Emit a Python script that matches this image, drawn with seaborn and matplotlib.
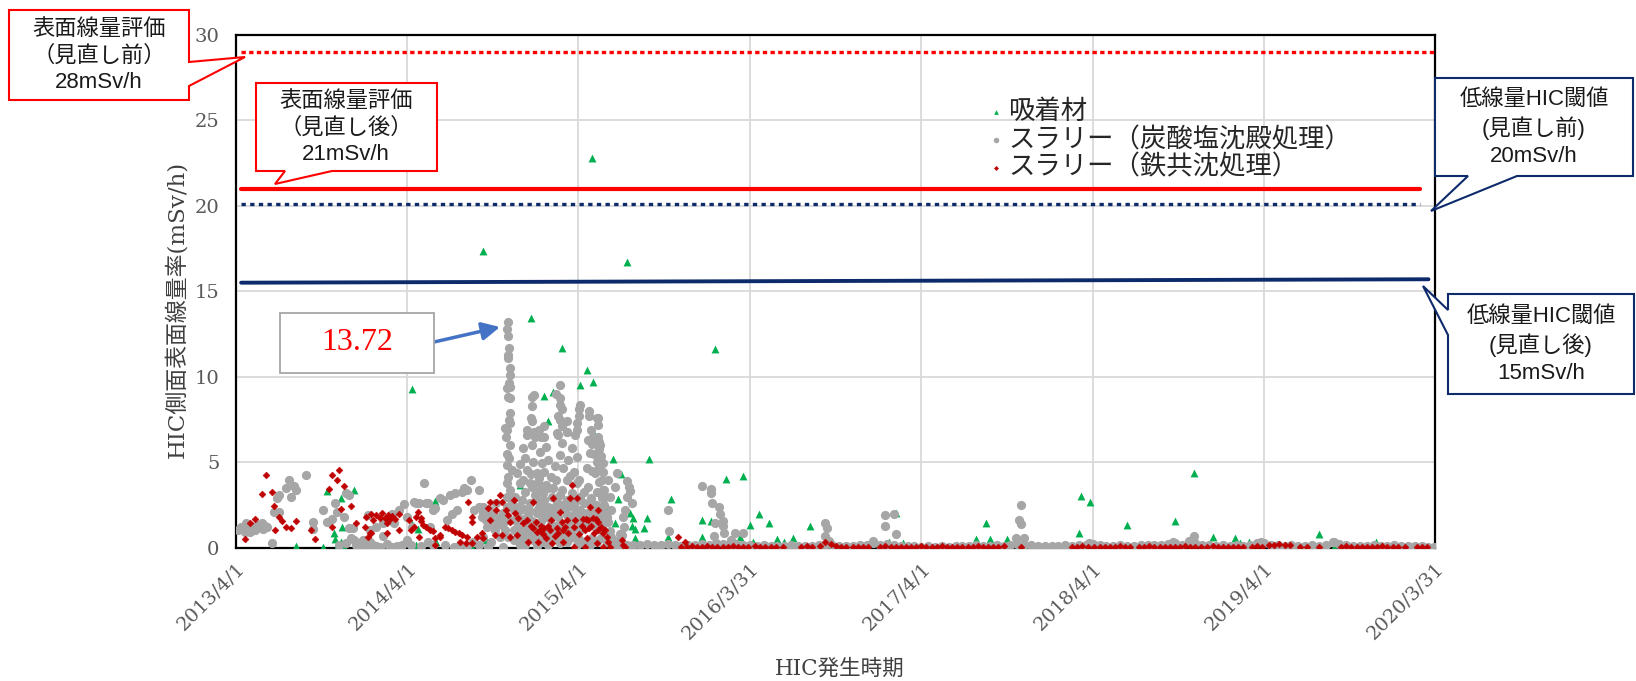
import numpy as np
import pandas as pd
import matplotlib
matplotlib.use("Agg")
import matplotlib.pyplot as plt
from matplotlib.patches import Polygon
import seaborn as sns

# ---- data: x = years elapsed since 2013/4/1, y = HIC side surface dose rate (mSv/h) ----
START = pd.Timestamp("2013-04-01")

# 吸着材 (green triangles)
ads_pts = [(0.35, 0.14), (0.51, 0.04), (0.53, 3.34), (0.57, 0.86), (0.58, 0.50), (0.59, 0.03),
           (0.61, 2.95), (0.61, 0.37), (0.62, 1.25), (0.63, 0.06), (0.69, 3.40), (1.03, 9.30),
           (1.03, 1.40), (1.05, 0.17), (1.06, 1.10), (1.16, 2.76), (1.17, 0.37), (1.29, 0.08),
           (1.37, 0.18), (1.44, 17.34), (1.46, 0.47), (1.63, 2.51), (1.66, 3.68), (1.71, 1.05),
           (1.72, 13.43), (1.80, 8.90), (1.82, 7.40), (1.85, 9.10), (1.90, 1.25), (1.905, 11.68),
           (1.95, 2.51), (2.00, 1.35), (2.01, 9.50), (2.05, 10.40), (2.076, 22.77), (2.086, 9.70),
           (2.086, 6.80), (2.17, 2.32), (2.20, 5.19), (2.21, 1.44), (2.23, 2.86), (2.245, 4.35),
           (2.28, 16.70), (2.30, 2.03), (2.31, 1.30), (2.32, 1.75), (2.33, 1.10), (2.33, 0.60),
           (2.38, 1.15), (2.40, 1.73), (2.41, 5.19), (2.52, 0.64), (2.54, 2.87), (2.72, 1.64),
           (2.72, 0.62), (2.77, 1.57), (2.795, 11.60), (2.86, 4.03), (2.94, 0.62), (2.96, 4.19),
           (3.00, 1.34), (3.02, 0.36), (3.05, 1.98), (3.11, 1.48), (3.16, 0.50), (3.20, 0.37),
           (3.25, 0.56), (3.35, 1.30), (3.81, 0.37), (3.85, 2.06), (3.895, 0.31), (4.32, 0.50),
           (4.375, 1.48), (4.40, 0.52), (4.50, 0.50), (4.92, 0.90), (4.93, 3.04), (4.985, 2.71),
           (5.20, 1.33), (5.48, 1.58), (5.59, 4.37), (5.70, 0.65), (5.83, 0.60), (5.86, 0.31),
           (5.91, 0.33), (6.32, 0.80), (6.655, 0.37)]
ads_low = [(2.45, 0.05), (2.62, 0.03), (2.90, 0.05), (3.30, 0.04), (3.90, 0.05), (4.50, 0.04),
           (5.20, 0.04), (5.90, 0.05), (6.41, 0.05), (6.60, 0.04)]

# スラリー（炭酸塩沈殿処理） (grey circles)
carb_early = [(0.01, 1.06), (0.03, 1.20), (0.04, 1.25), (0.05, 0.95), (0.06, 1.45), (0.07, 1.10),
              (0.08, 0.96), (0.09, 1.30), (0.10, 1.25), (0.11, 1.05), (0.12, 1.15), (0.13, 1.35),
              (0.15, 1.45), (0.16, 1.10), (0.17, 1.30), (0.18, 1.25), (0.21, 0.27), (0.22, 2.12),
              (0.24, 2.90), (0.25, 3.10), (0.25, 2.10), (0.29, 3.49), (0.31, 3.95), (0.32, 3.00),
              (0.34, 3.63), (0.35, 3.36), (0.41, 4.27), (0.45, 1.54), (0.45, 1.09), (0.51, 2.20),
              (0.53, 1.54), (0.56, 1.68), (0.58, 2.60), (0.59, 2.12), (0.63, 1.83), (0.64, 3.20),
              (0.66, 3.10), (0.66, 1.15), (0.67, 0.56), (0.68, 1.15), (0.70, 0.17), (0.72, 0.30),
              (0.74, 0.47), (0.76, 0.10), (0.77, 1.93), (0.78, 1.05), (0.80, 0.20), (0.82, 1.25),
              (0.84, 0.08), (0.86, 1.44), (0.86, 0.70), (0.89, 1.64), (0.91, 2.00), (0.91, 0.08),
              (0.92, 1.45), (0.95, 2.20), (0.97, 0.17), (0.98, 2.55), (1.00, 0.47), (1.00, 1.80),
              (1.03, 1.25), (1.04, 2.70), (1.05, 2.60), (1.07, 2.60), (1.10, 3.82), (1.11, 2.65),
              (1.12, 2.60), (1.12, 0.37), (1.13, 1.25), (1.15, 2.20), (1.16, 2.32), (1.19, 2.90),
              (1.21, 2.80), (1.22, 0.18), (1.23, 1.64), (1.25, 3.10), (1.26, 2.00), (1.27, 0.08),
              (1.28, 3.20), (1.29, 2.20), (1.32, 3.30), (1.33, 3.50), (1.35, 3.40), (1.37, 4.00),
              (1.385, 0.37), (1.39, 2.20), (1.42, 3.40), (1.42, 2.40), (1.44, 2.04), (1.46, 1.65),
              (1.50, 1.25), (0.60, 0.15), (0.64, 0.30), (0.69, 0.45), (0.73, 0.15), (0.78, 0.35),
              (0.82, 0.10), (0.88, 0.25), (0.94, 0.10), (1.02, 0.20), (1.08, 0.10), (1.15, 0.15),
              (1.30, 0.10), (1.35, 0.12), (1.42, 0.15)]
carb_peak = [(1.44, 2.42), (1.48, 2.22), (1.52, 2.61), (1.434, 1.83), (1.49, 1.64), (1.54, 1.83),
             (1.463, 1.25), (1.51, 1.05), (1.55, 1.35), (1.444, 0.66), (1.49, 0.37), (1.54, 0.66),
             (1.62, 0.47), (1.47, 0.08), (1.56, 0.08), (1.658, 0.18),
             (1.584, 6.90), (1.576, 6.50), (1.60, 6.00), (1.584, 5.50), (1.595, 5.24), (1.58, 4.85),
             (1.61, 4.56), (1.59, 4.17), (1.58, 3.78), (1.60, 3.40), (1.58, 3.00), (1.61, 2.70),
             (1.584, 2.42), (1.56, 2.03), (1.60, 1.64), (1.57, 1.05), (1.59, 0.66),
             (1.586, 13.23), (1.58, 12.79), (1.586, 12.36), (1.596, 11.68), (1.59, 11.30),
             (1.59, 11.10), (1.60, 10.50), (1.60, 10.10), (1.596, 9.63), (1.58, 9.34), (1.60, 9.40),
             (1.59, 8.85), (1.60, 8.75), (1.60, 7.87), (1.596, 7.48), (1.60, 7.30), (1.57, 7.00),
             (1.70, 6.60), (1.745, 6.50), (1.80, 6.50), (1.677, 5.83), (1.726, 6.00), (1.774, 5.63),
             (1.81, 5.90), (1.687, 5.24), (1.735, 5.05), (1.784, 4.95), (1.823, 5.15), (1.70, 4.56),
             (1.755, 4.37), (1.80, 4.46), (1.84, 4.17), (1.677, 3.98), (1.716, 3.78), (1.765, 3.88),
             (1.81, 3.68), (1.852, 3.49), (1.687, 3.30), (1.745, 3.10), (1.794, 3.20), (1.842, 3.00),
             (1.667, 2.81), (1.716, 2.61), (1.774, 2.51), (1.823, 2.42), (1.872, 2.71), (1.658, 2.22),
             (1.706, 1.93), (1.755, 2.03), (1.80, 1.83), (1.862, 1.93), (1.638, 1.54), (1.697, 1.35),
             (1.745, 1.25), (1.794, 1.05), (1.842, 1.35), (1.89, 1.15), (1.677, 0.66), (1.735, 0.47),
             (1.80, 0.37), (1.872, 0.56), (1.93, 0.37),
             (1.872, 6.70), (1.93, 6.80), (1.98, 6.60), (1.90, 6.12), (1.96, 5.83), (1.89, 5.44),
             (1.94, 5.15), (1.99, 5.34), (1.91, 4.66), (1.97, 4.46), (1.93, 3.98), (1.99, 3.78),
             (1.90, 3.40), (1.96, 3.20), (2.01, 3.00), (1.92, 2.22), (1.98, 2.03), (1.95, 1.44),
             (2.01, 1.05), (1.97, 0.66), (2.03, 0.37),
             (2.056, 6.30), (2.086, 6.50), (2.125, 6.00), (2.066, 5.54), (2.115, 5.24), (2.144, 4.95),
             (2.047, 4.66), (2.095, 4.37), (2.135, 3.98), (2.056, 3.59), (2.105, 3.30), (2.154, 3.00),
             (2.076, 2.61), (2.125, 2.22), (2.163, 1.83), (2.086, 1.54), (2.135, 1.05), (2.19, 0.66),
             (2.105, 0.37), (2.22, 0.18),
             (1.638, 4.37), (1.658, 3.78), (1.63, 3.00), (1.648, 2.42), (1.726, 3.59), (1.774, 3.40),
             (1.823, 3.49), (1.755, 2.81), (1.80, 2.81), (1.89, 3.10), (1.93, 2.81), (1.97, 2.51),
             (2.01, 2.22), (2.047, 2.03), (2.086, 2.12), (2.135, 1.74), (2.19, 2.22), (2.18, 3.00),
             (2.212, 3.59), (2.17, 3.98), (2.222, 4.37), (2.056, 1.64), (2.01, 1.44), (1.96, 1.05),
             (1.91, 0.76), (1.852, 0.86), (1.774, 0.76), (1.726, 0.86), (1.658, 1.05), (1.62, 1.05),
             (1.89, 0.27), (1.823, 0.18), (1.755, 0.12), (1.687, 0.18), (1.99, 0.18), (2.066, 0.18),
             (2.163, 0.27), (2.24, 0.47),
             (1.74, 8.95), (1.73, 8.80), (1.73, 8.30), (1.72, 7.60), (1.73, 7.40), (1.70, 6.90),
             (1.74, 6.80), (1.77, 6.90), (1.80, 7.10), (1.78, 6.50), (1.89, 9.50), (1.87, 9.00),
             (1.89, 8.75), (1.89, 8.36), (1.90, 8.10), (1.88, 7.70), (1.89, 7.50), (1.93, 7.40),
             (1.90, 7.10), (1.88, 6.60), (1.93, 6.80), (2.01, 8.36), (2.00, 8.10), (2.00, 7.70),
             (1.99, 7.30), (1.99, 6.90), (2.06, 8.00), (2.06, 7.70), (2.11, 7.60), (2.11, 7.20),
             (2.11, 6.50), (2.105, 7.58), (2.07, 6.90), (2.08, 6.10), (2.12, 6.20), (2.12, 5.80),
             (2.09, 5.50), (2.13, 5.40), (2.105, 5.00), (2.12, 4.75), (2.08, 4.50), (2.14, 4.46),
             (2.12, 3.88), (2.14, 3.40), (2.135, 2.90), (2.15, 2.50), (2.16, 2.00), (2.17, 1.50),
             (2.18, 1.00), (2.22, 0.40), (2.24, 0.80),
             (1.46, 1.90), (1.50, 2.00), (1.53, 1.50), (1.57, 1.60), (1.62, 2.20), (1.64, 1.90),
             (1.68, 2.30), (1.71, 2.20), (1.76, 2.30), (1.79, 2.20), (1.83, 2.10), (1.86, 2.40),
             (1.90, 2.50), (1.94, 2.40), (1.98, 2.70), (2.03, 2.60), (2.07, 2.90), (2.10, 2.50),
             (2.15, 3.40), (2.03, 3.30), (2.00, 4.00), (1.95, 4.20), (1.87, 4.00), (1.86, 4.80),
             (1.77, 4.10), (1.72, 4.30), (1.66, 4.90), (1.68, 1.70), (1.73, 1.60), (1.78, 1.60),
             (1.83, 1.70), (1.88, 1.80), (1.93, 1.90), (1.97, 1.70), (2.02, 1.80), (2.07, 1.80),
             (2.11, 1.90), (1.70, 1.00), (1.76, 0.90), (1.82, 0.90), (1.87, 1.30), (1.93, 1.10),
             (2.04, 1.20), (2.09, 1.30), (2.14, 1.40), (1.64, 0.60), (1.72, 0.60), (1.84, 0.50),
             (1.95, 0.60), (2.00, 0.50), (2.08, 0.60), (2.13, 0.60)]
carb_late = [(2.28, 3.94), (2.296, 3.59), (2.30, 3.35), (2.28, 3.00), (2.31, 2.60), (2.27, 2.20),
             (2.26, 1.79), (2.265, 1.25), (2.25, 0.76), (2.72, 3.64), (2.77, 3.42), (2.77, 3.23),
             (2.776, 2.60), (2.52, 2.22), (2.53, 1.01), (2.82, 2.38), (2.825, 2.00), (2.84, 1.60),
             (2.84, 1.30), (2.796, 1.44), (2.85, 0.85), (2.79, 0.70), (2.91, 0.85), (2.89, 0.47),
             (2.96, 0.85), (3.44, 1.44), (3.45, 1.15), (3.44, 0.72), (3.46, 0.41), (3.79, 1.93),
             (3.84, 1.97), (3.79, 1.30), (3.85, 0.80), (3.72, 0.41), (4.58, 2.51), (4.57, 1.64),
             (4.58, 1.40), (4.55, 0.60), (4.60, 0.56), (5.59, 0.70), (5.47, 0.37), (5.98, 0.35),
             (6.41, 0.37), (4.98, 0.27)]
carb_band_x = [2.20, 2.24, 2.28, 2.32, 2.36, 2.40, 2.44, 2.48, 2.52, 2.56, 2.60, 2.64, 2.68, 2.72,
               2.76, 2.80, 2.84, 2.88, 2.92, 2.96, 3.00, 3.04, 3.08, 3.12, 3.16, 3.20, 3.24, 3.28,
               3.32, 3.36, 3.40, 3.44, 3.48, 3.52, 3.56, 3.60, 3.64, 3.68, 3.72, 3.76, 3.80, 3.84,
               3.88, 3.92, 3.96, 4.00, 4.04, 4.08, 4.12, 4.16, 4.20, 4.24, 4.28, 4.32, 4.36, 4.40,
               4.44, 4.48, 4.52, 4.56, 4.60, 4.64, 4.68, 4.72, 4.76, 4.80, 4.84, 4.88, 4.92, 4.96,
               5.00, 5.04, 5.08, 5.12, 5.16, 5.20, 5.24, 5.28, 5.32, 5.36, 5.40, 5.44, 5.48, 5.52,
               5.56, 5.60, 5.64, 5.68, 5.72, 5.76, 5.80, 5.84, 5.88, 5.92, 5.96, 6.00, 6.04, 6.08,
               6.12, 6.16, 6.20, 6.24, 6.28, 6.32, 6.36, 6.40, 6.44, 6.48, 6.52, 6.56, 6.60, 6.64,
               6.68, 6.72, 6.76, 6.80, 6.84, 6.88, 6.92, 6.96, 6.99]
carb_band_y = [0.25, 0.20, 0.15, 0.20, 0.18, 0.22, 0.15, 0.20, 0.25, 0.18, 0.12, 0.20, 0.15, 0.25,
               0.20, 0.30, 0.22, 0.18, 0.25, 0.15, 0.20, 0.12, 0.15, 0.10, 0.12, 0.10, 0.15, 0.10,
               0.12, 0.10, 0.15, 0.20, 0.15, 0.10, 0.12, 0.10, 0.15, 0.20, 0.30, 0.20, 0.25, 0.15,
               0.10, 0.12, 0.10, 0.08, 0.10, 0.08, 0.10, 0.08, 0.10, 0.12, 0.10, 0.15, 0.12, 0.10,
               0.15, 0.12, 0.20, 0.25, 0.20, 0.15, 0.12, 0.10, 0.12, 0.10, 0.15, 0.12, 0.15, 0.20,
               0.25, 0.15, 0.12, 0.10, 0.15, 0.12, 0.10, 0.15, 0.20, 0.15, 0.20, 0.25, 0.30, 0.20,
               0.40, 0.30, 0.20, 0.15, 0.12, 0.15, 0.10, 0.15, 0.12, 0.20, 0.30, 0.30, 0.20, 0.15,
               0.12, 0.15, 0.10, 0.12, 0.15, 0.12, 0.20, 0.35, 0.25, 0.15, 0.12, 0.10, 0.12, 0.15,
               0.12, 0.10, 0.15, 0.12, 0.10, 0.12, 0.10, 0.08, 0.08]

# スラリー（鉄共沈処理） (red)
fe_early = [(0.05, 0.55), (0.08, 1.44), (0.11, 1.67), (0.15, 3.17), (0.175, 4.27), (0.21, 3.30),
            (0.22, 2.45), (0.23, 1.05), (0.25, 1.80), (0.27, 1.60), (0.29, 1.25), (0.32, 1.15),
            (0.35, 1.60), (0.44, 1.05), (0.46, 0.50), (0.54, 3.44), (0.56, 4.27), (0.56, 1.25),
            (0.59, 3.98), (0.60, 4.56), (0.61, 2.26), (0.63, 3.63), (0.67, 2.45), (0.70, 1.44),
            (0.75, 1.21), (0.76, 1.82), (0.77, 0.66), (0.78, 0.88), (0.79, 0.86), (0.79, 2.00),
            (0.80, 1.64), (0.82, 1.93), (0.84, 1.74), (0.85, 2.06), (0.87, 1.74), (0.88, 0.86),
            (0.88, 1.45), (0.89, 1.93), (0.90, 1.68), (0.91, 1.87), (0.93, 1.68), (0.95, 2.00),
            (0.95, 1.05), (1.01, 1.64), (1.02, 1.05), (1.04, 1.25), (1.05, 1.82), (1.06, 2.12),
            (1.07, 0.66), (1.08, 1.74), (1.08, 1.55), (1.09, 1.34), (1.11, 1.21), (1.13, 1.05),
            (1.15, 0.97), (1.16, 0.17), (1.16, 0.56), (1.19, 0.66), (1.19, 0.76), (1.22, 1.25),
            (1.24, 1.15), (1.26, 1.05), (1.28, 0.95), (1.30, 0.86), (1.31, 0.37), (1.32, 0.76),
            (1.34, 0.27), (1.35, 0.66), (1.356, 2.71), (1.375, 1.83), (1.375, 1.54), (1.38, 0.27),
            (1.405, 0.66), (1.434, 0.86), (1.444, 0.56)]
fe_peak = [(1.473, 2.32), (1.48, 2.71), (1.48, 1.64), (1.51, 0.76), (1.517, 2.71), (1.52, 2.22),
           (1.54, 3.10), (1.55, 0.76), (1.55, 2.71), (1.576, 2.22), (1.59, 1.93), (1.60, 1.54),
           (1.60, 0.66), (1.62, 2.81), (1.63, 2.03), (1.638, 0.76), (1.648, 1.74), (1.677, 1.44),
           (1.697, 1.64), (1.706, 0.37), (1.735, 2.71), (1.735, 1.15), (1.755, 0.95), (1.765, 0.37),
           (1.774, 1.05), (1.80, 1.15), (1.833, 1.05), (1.84, 1.64), (1.842, 0.27), (1.852, 2.90),
           (1.872, 1.15), (1.89, 2.12), (1.91, 1.05), (1.91, 0.37), (1.93, 1.64), (1.95, 2.90),
           (1.96, 3.68), (1.97, 0.08), (1.98, 1.64), (1.99, 2.90), (2.027, 1.68), (2.037, 1.05),
           (2.037, 0.08), (2.056, 1.64), (2.066, 2.40), (2.086, 1.74), (2.10, 1.70), (2.105, 0.27),
           (2.115, 2.22), (2.115, 1.05), (2.04, 1.70), (2.06, 1.16), (2.14, 0.86), (2.144, 0.08),
           (2.154, 1.05), (2.163, 0.66), (2.17, 0.37), (2.18, 0.08), (2.25, 0.45), (2.26, 0.17),
           (2.27, 0.08), (2.58, 0.62), (2.62, 0.37), (2.63, 0.08), (1.72, 1.30), (1.75, 1.50),
           (1.78, 1.30), (1.79, 0.80), (1.81, 0.60), (1.82, 1.30), (1.86, 0.70), (1.88, 0.90),
           (1.90, 1.50), (1.92, 1.20), (1.94, 0.90), (1.97, 1.20), (2.00, 0.80), (2.02, 1.30),
           (2.05, 0.60), (2.07, 1.30), (2.09, 0.90), (2.11, 1.50), (2.13, 1.20)]
fe_band_x = [2.60, 2.66, 2.69, 2.72, 2.75, 2.78, 2.81, 2.84, 2.87, 2.90, 2.93, 2.96, 2.99, 3.03,
             3.06, 3.09, 3.12, 3.15, 3.19, 3.30, 3.33, 3.36, 3.41, 3.44, 3.47, 3.50, 3.53, 3.56,
             3.60, 3.63, 3.66, 3.69, 3.76, 3.79, 3.82, 3.85, 3.88, 3.91, 3.94, 3.97, 4.00, 4.03,
             4.06, 4.09, 4.12, 4.15, 4.18, 4.21, 4.24, 4.27, 4.30, 4.33, 4.36, 4.39, 4.42, 4.45,
             4.48, 4.58, 4.88, 4.91, 4.94, 4.97, 5.01, 5.04, 5.07, 5.10, 5.13, 5.16, 5.19, 5.22,
             5.27, 5.30, 5.33, 5.36, 5.39, 5.42, 5.45, 5.48, 5.51, 5.54, 5.57, 5.60, 5.63, 5.67,
             5.70, 5.73, 5.76, 5.79, 5.82, 5.85, 5.88, 5.93, 5.96, 5.99, 6.03, 6.06, 6.09, 6.12,
             6.15, 6.21, 6.25, 6.32, 6.45, 6.48, 6.51, 6.54, 6.57, 6.60, 6.63, 6.66, 6.69, 6.72,
             6.75, 6.78, 6.82, 6.89, 6.92, 6.95]
fe_band_y = [0.08, 0.10, 0.08, 0.08, 0.10, 0.08, 0.08, 0.06, 0.08, 0.10, 0.08, 0.08, 0.08, 0.10,
             0.08, 0.08, 0.06, 0.08, 0.08, 0.08, 0.10, 0.08, 0.12, 0.37, 0.25, 0.10, 0.08, 0.08,
             0.08, 0.06, 0.08, 0.08, 0.08, 0.10, 0.08, 0.08, 0.08, 0.06, 0.08, 0.08, 0.10, 0.08,
             0.08, 0.08, 0.10, 0.08, 0.08, 0.06, 0.08, 0.08, 0.08, 0.10, 0.08, 0.08, 0.08, 0.08,
             0.10, 0.08, 0.08, 0.08, 0.10, 0.08, 0.08, 0.08, 0.06, 0.08, 0.08, 0.10, 0.08, 0.08,
             0.08, 0.08, 0.10, 0.08, 0.08, 0.08, 0.06, 0.08, 0.08, 0.10, 0.08, 0.08, 0.08, 0.08,
             0.10, 0.08, 0.08, 0.08, 0.06, 0.08, 0.08, 0.08, 0.10, 0.08, 0.18, 0.20, 0.22, 0.20,
             0.18, 0.08, 0.08, 0.08, 0.08, 0.10, 0.08, 0.08, 0.08, 0.06, 0.08, 0.08, 0.10, 0.08,
             0.08, 0.08, 0.08, 0.08, 0.08, 0.08]

# reference lines (start/end in years since 2013/4/1, level in mSv/h)
eval_old_x, eval_old_y = [0.03, 7.0], [29.0, 29.0]
eval_new_x, eval_new_y = [0.03, 6.91], [21.0, 21.0]
low_old_x, low_old_y = [0.03, 6.91], [20.1, 20.1]
low_new_x, low_new_y = [0.03, 6.96], [15.5, 15.7]

tick_dates = ["2013-04-01", "2014-04-01", "2015-04-01", "2016-03-31",
              "2017-04-01", "2018-04-01", "2019-04-01", "2020-03-31"]
tick_labels = ["2013/4/1", "2014/4/1", "2015/4/1", "2016/3/31",
               "2017/4/1", "2018/4/1", "2019/4/1", "2020/3/31"]


def to_dates(xs):
    return START + pd.to_timedelta(np.asarray(xs, dtype=float) * 365.25, unit="D")


def unzip(pts):
    return [p[0] for p in pts], [p[1] for p in pts]


ads_x, ads_y = unzip(ads_pts + ads_low)
cx1, cy1 = unzip(carb_early + carb_peak + carb_late)
carb_x, carb_y = cx1 + carb_band_x, cy1 + carb_band_y
fx1, fy1 = unzip(fe_early + fe_peak)
fe_x, fe_y = fx1 + fe_band_x, fy1 + fe_band_y

# -------- plot --------
sns.set_theme(style="white")
SERIF = ["DejaVu Serif", "Noto Sans CJK JP"]
SANS = ["Liberation Sans", "Noto Sans CJK JP"]
plt.rcParams["font.family"] = SERIF

W, H = 1636, 681
fig = plt.figure(figsize=(W / 100, H / 100), dpi=100)
ax = fig.add_axes([236 / W, 1 - 548 / H, (1435 - 236) / W, (548 - 34.5) / H])

GREEN, GREY, RED = "#00B050", "#A6A6A6", "#C00000"
NAVY = "#0D2A6B"

sns.scatterplot(x=to_dates(ads_x), y=ads_y, ax=ax, marker="^", s=32, color=GREEN,
                linewidth=0, label="吸着材", zorder=3)
sns.scatterplot(x=to_dates(carb_x), y=carb_y, ax=ax, marker="o", s=44, color=GREY,
                linewidth=0, label="スラリー（炭酸塩沈殿処理）", zorder=4)
sns.scatterplot(x=to_dates(fe_x), y=fe_y, ax=ax, marker="D", s=12, color=RED,
                edgecolor=RED, linewidth=0.4, label="スラリー（鉄共沈処理）", zorder=5)

ax.plot(to_dates(eval_old_x), eval_old_y, color="#FF0000", lw=2.4, ls=(0, (1.3, 1.0)), zorder=6)
ax.plot(to_dates(eval_new_x), eval_new_y, color="#FF0000", lw=3.0, zorder=6)
ax.plot(to_dates(low_old_x), low_old_y, color=NAVY, lw=2.4, ls=(0, (1.3, 1.3)), zorder=6)
ax.plot(to_dates(low_new_x), low_new_y, color=NAVY, lw=2.8, zorder=6)

ticks = pd.to_datetime(tick_dates)
ax.set_xlim(ticks[0], ticks[-1])
ax.set_ylim(0, 30)
ax.set_yticks(range(0, 31, 5))
ax.set_xticks(ticks)
ax.set_xticklabels(tick_labels, rotation=45, ha="right", va="top", rotation_mode="anchor")
ax.tick_params(axis="both", length=0, labelsize=14, labelcolor="#595959")
ax.tick_params(axis="y", pad=12)
ax.tick_params(axis="x", pad=8)
ax.grid(True, color="#D9D9D9", lw=1.3)
ax.set_axisbelow(True)
for sp in ax.spines.values():
    sp.set_color("black")
    sp.set_linewidth(1.6)

ax.set_ylabel("HIC側面表面線量率(mSv/h)", fontsize=16.5, color="#404040")
ax.yaxis.set_label_coords((188 - 236) / 1199, 0.465)
ax.set_xlabel("HIC発生時期", fontsize=15.5, color="#404040")
ax.xaxis.set_label_coords((840 - 236) / 1199, (548 - 658) / 513.5)

ax.legend(loc="upper left", bbox_to_anchor=(975 / W, 1 - 86 / H), bbox_transform=fig.transFigure,
          frameon=False, prop={"family": SERIF, "size": 19}, markerscale=0.6,
          handletextpad=0.15, labelspacing=0.1, handlelength=0.6, borderpad=0,
          labelcolor="#262626")


# -------- callouts (pixel layout, origin top-left) --------
def fx(px):
    return px / W


def fy(py):
    return 1 - py / H


def callout(verts, edge, lines, cx, cy, size=16, lw=1.5):
    poly = Polygon([(fx(a), fy(b)) for a, b in verts], closed=True, facecolor="white",
                   edgecolor=edge, lw=lw, transform=fig.transFigure, zorder=10)
    fig.add_artist(poly)
    fig.text(fx(cx), fy(cy), lines, ha="center", va="center", fontsize=size, family=SANS,
             color="#1a1a1a", linespacing=1.35, zorder=11)


callout([(9, 10), (189, 10), (189, 62), (245, 57), (189, 86), (189, 100), (9, 100)],
        "#FF0000", "表面線量評価\n（見直し前）\n28mSv/h", 99, 56)
callout([(256, 83), (437, 83), (437, 171), (332, 171), (275, 184), (285, 171), (256, 171)],
        "#FF0000", "表面線量評価\n（見直し後）\n21mSv/h", 346, 128)
callout([(1435, 78), (1633, 78), (1633, 176), (1517, 176), (1431, 211), (1468, 176), (1435, 176)],
        NAVY, "低線量HIC閾値\n(見直し前)\n20mSv/h", 1534, 128)
callout([(1448, 294), (1634, 294), (1634, 394), (1448, 394), (1448, 335), (1423, 286), (1448, 310)],
        NAVY, "低線量HIC閾値\n(見直し後)\n15mSv/h", 1541, 345)

box = Polygon([(fx(280), fy(313)), (fx(434), fy(313)), (fx(434), fy(373)), (fx(280), fy(373))],
              closed=True, facecolor="white", edgecolor="#A6A6A6", lw=1.3,
              transform=fig.transFigure, zorder=10)
fig.add_artist(box)
fig.text(fx(357), fy(343), "13.72", ha="center", va="center", fontsize=23,
         family=["Liberation Serif"], color="#FF0000", zorder=11)
ax.annotate("", xy=(fx(500), fy(327)), xycoords="figure fraction",
            xytext=(fx(434), fy(342)), textcoords="figure fraction",
            arrowprops=dict(arrowstyle="-|>,head_length=0.9,head_width=0.45", color="#4472C4",
                            lw=2.5, shrinkA=0, shrinkB=0), annotation_clip=False, zorder=12)

fig.savefig("out.png", dpi=100)
